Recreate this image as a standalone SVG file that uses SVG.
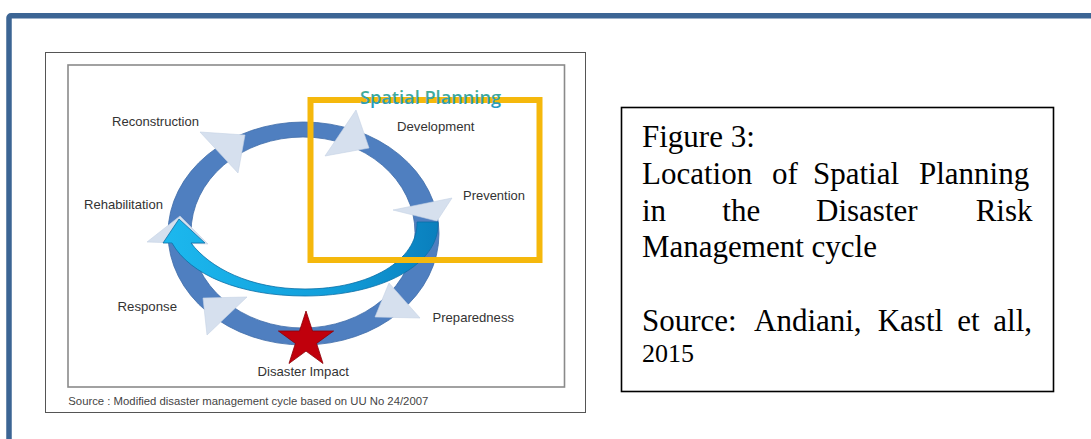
<svg xmlns="http://www.w3.org/2000/svg" width="1091" height="439" viewBox="0 0 1091 439">
<defs>
<style>
.lbl{font-family:"Liberation Sans",Arial,sans-serif;font-size:13px;fill:#333}
.cap{font-family:"Liberation Serif","Times New Roman",serif;font-size:31px;fill:#000}
.small{font-size:26px}
.tri{fill:#d6e0ee;stroke:#c5d2e4;stroke-width:0.6}
</style>
<linearGradient id="cyanG" x1="0" y1="0" x2="1" y2="0">
<stop offset="0" stop-color="#1cb8ee"/>
<stop offset="0.6" stop-color="#129fdb"/>
<stop offset="1" stop-color="#0a7fbd"/>
</linearGradient>
<linearGradient id="spG" x1="0" y1="0" x2="0" y2="1">
<stop offset="0" stop-color="#4fb585"/>
<stop offset="1" stop-color="#2196c8"/>
</linearGradient>
</defs>
<rect width="1091" height="439" fill="#fff"/>
<g id="page-frame">
<rect x="9" y="15.8" width="1100" height="440" rx="2" fill="none" stroke="#3c6594" stroke-width="5.5"/>
</g>
<g id="photo">
<rect x="45.5" y="52.5" width="540" height="360" fill="#fff" stroke="#555" stroke-width="1"/>
<rect x="68" y="65" width="496.5" height="322" fill="#fff" stroke="#8a8a8a" stroke-width="1.6"/>
<text x="68.3" y="405" font-family="Liberation Sans,Arial,sans-serif" font-size="10.5" fill="#444" textLength="360" lengthAdjust="spacingAndGlyphs">Source : Modified disaster management cycle based on UU No 24/2007</text>
</g>
<g id="cycle-ring">
<path d="M168,233.5 A135.5,111.5 0 1,0 439,233.5 A135.5,111.5 0 1,0 168,233.5 Z M191,232.5 A112,95.5 0 1,1 415,232.5 A112,95.5 0 1,1 191,232.5 Z" fill="#4f7fc0" fill-rule="evenodd" stroke="#3f6ca8" stroke-width="0.8"/>
</g>
<g id="connectors">
<polygon class="tri" points="200,132 245,135 238,173"/>
<polygon class="tri" points="356,110 369,148 325,156"/>
<polygon class="tri" points="452,198 437,221 393,210"/>
<polygon class="tri" points="389,283 420,318 375,317"/>
<polygon class="tri" points="203,298 247,297 207,335"/>
<polygon class="tri" points="180,216 147,242 208,244"/>
<path id="spatial-arrow" d="M438,222 C440,265 380,296 305,296 C240,296 190,275 172,243 L163,243 L179,219 L205,243 L191,243 C210,268 250,289 305,289 C370,289 418,260 417,222 Z" fill="url(#cyanG)" stroke="#0b6ea6" stroke-width="0.8"/>
</g>
<g id="spatial-planning">
<rect x="310.5" y="100" width="229" height="160" fill="none" stroke="#f5b80c" stroke-width="6"/>
<text x="360" y="104" font-family="Open Sans,Liberation Sans,sans-serif" font-size="18" font-weight="600" fill="url(#spG)" textLength="141" lengthAdjust="spacingAndGlyphs">Spatial Planning</text>
</g>
<g id="disaster-impact">
<polygon points="306,311 312.5,331 333.6,331 316.6,343.4 323,363.5 306,351.1 289,363.5 295.4,343.4 278.4,331 299.5,331" fill="#c0000c" stroke="#8a0008" stroke-width="0.8"/>
<text class="lbl" x="257.5" y="376" textLength="91.5" lengthAdjust="spacingAndGlyphs">Disaster Impact</text>
</g>
<g id="reconstruction"><text class="lbl" x="112" y="126" textLength="87" lengthAdjust="spacingAndGlyphs">Reconstruction</text></g>
<g id="development"><text class="lbl" x="397" y="131" textLength="77.5" lengthAdjust="spacingAndGlyphs">Development</text></g>
<g id="prevention"><text class="lbl" x="463" y="200" textLength="62" lengthAdjust="spacingAndGlyphs">Prevention</text></g>
<g id="rehabilitation"><text class="lbl" x="84" y="209" textLength="79" lengthAdjust="spacingAndGlyphs">Rehabilitation</text></g>
<g id="response"><text class="lbl" x="117.5" y="311" textLength="59.5" lengthAdjust="spacingAndGlyphs">Response</text></g>
<g id="preparedness"><text class="lbl" x="432.5" y="322" textLength="81.5" lengthAdjust="spacingAndGlyphs">Preparedness</text></g>
<g id="caption">
<rect x="621.5" y="107.5" width="432" height="284" fill="#fff" stroke="#000" stroke-width="1.6"/>
<text class="cap" x="642" y="147">Figure 3:</text>
<text class="cap" y="184"><tspan x="642">Location</tspan><tspan x="772">of</tspan><tspan x="813">Spatial</tspan><tspan x="919">Planning</tspan></text>
<text class="cap" y="221"><tspan x="642">in</tspan><tspan x="722.3">the</tspan><tspan x="816">Disaster</tspan><tspan x="975.7">Risk</tspan></text>
<text class="cap" x="642" y="257.3">Management cycle</text>
<text class="cap" y="331"><tspan x="642">Source:</tspan><tspan x="754">Andiani,</tspan><tspan x="877.7">Kastl</tspan><tspan x="957.3">et</tspan><tspan x="993.3">all,</tspan></text>
<text class="cap small" x="642" y="362.3">2015</text>
</g>
</svg>
